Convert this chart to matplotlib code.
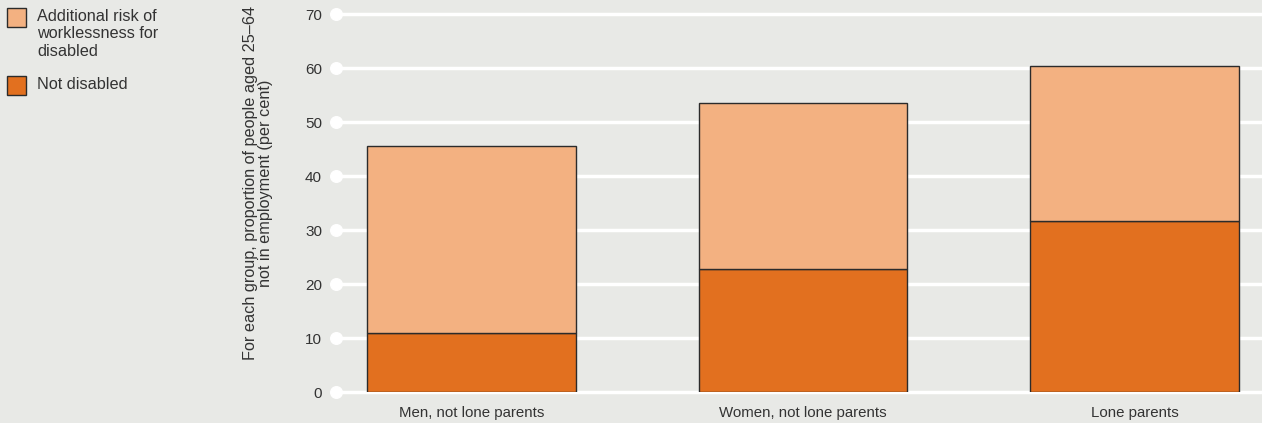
import matplotlib.pyplot as plt
from matplotlib.patches import Rectangle

groups = ["Men, not lone parents", "Women, not lone parents", "Lone parents"]
not_disabled = [10.9, 22.8, 31.7]
additional_risk = [34.7, 30.7, 28.7]
yticks = [0, 10, 20, 30, 40, 50, 60, 70]

bg = "#e8e9e6"
light = "#f3b181"
dark = "#e2701f"
edge = "#2b2b2b"
txt = "#333333"

plt.rcParams["font.family"] = ["Liberation Sans", "DejaVu Sans"]

fig = plt.figure(figsize=(12.62, 4.23), dpi=100, facecolor=bg)
ax = fig.add_axes([336 / 1262, 31 / 423, 926 / 1262, 378 / 423])
ax.set_facecolor(bg)

x = list(range(len(groups)))
ax.bar(x, not_disabled, width=0.63, color=dark, edgecolor=edge, linewidth=1, zorder=3)
ax.bar(x, additional_risk, width=0.63, bottom=not_disabled, color=light,
       edgecolor=edge, linewidth=1, zorder=3)

ax.set_xlim(-0.409, 2.385)
ax.set_ylim(0, 70)

x0 = ax.get_xlim()[0]
for t in yticks:
    ax.axhline(t, color="white", linewidth=2.5, zorder=1, clip_on=False)
ax.scatter([x0] * len(yticks), yticks, s=70, color="white", zorder=2, clip_on=False)

for s in ax.spines.values():
    s.set_visible(False)
ax.set_yticks(yticks)
ax.set_yticklabels([str(t) for t in yticks], fontsize=11, color=txt)
ax.set_xticks(x)
ax.set_xticklabels(groups, fontsize=10.8, color=txt)
ax.tick_params(axis="both", length=0)
ax.tick_params(axis="y", pad=10)
ax.tick_params(axis="x", pad=10)

fig.text(258 / 1262, 1 - 183 / 423,
         "For each group, proportion of people aged 25\u201364\nnot in employment (per cent)",
         rotation=90, ha="center", va="center", multialignment="center",
         fontsize=11.7, color=txt, linespacing=1.0)

# legend
legend_items = [("Additional risk of\nworklessness for\ndisabled", light, 8),
                ("Not disabled", dark, 76)]
for label, col, ytop in legend_items:
    fig.patches.append(Rectangle((7 / 1262, 1 - (ytop + 19) / 423), 19 / 1262, 19 / 423,
                                 transform=fig.transFigure, facecolor=col,
                                 edgecolor=edge, linewidth=1))
    fig.text(37 / 1262, 1 - (ytop + 1) / 423, label, ha="left", va="top",
             fontsize=11.7, color=txt, linespacing=1.2)

fig.savefig("out.png", dpi=100, facecolor=bg)
